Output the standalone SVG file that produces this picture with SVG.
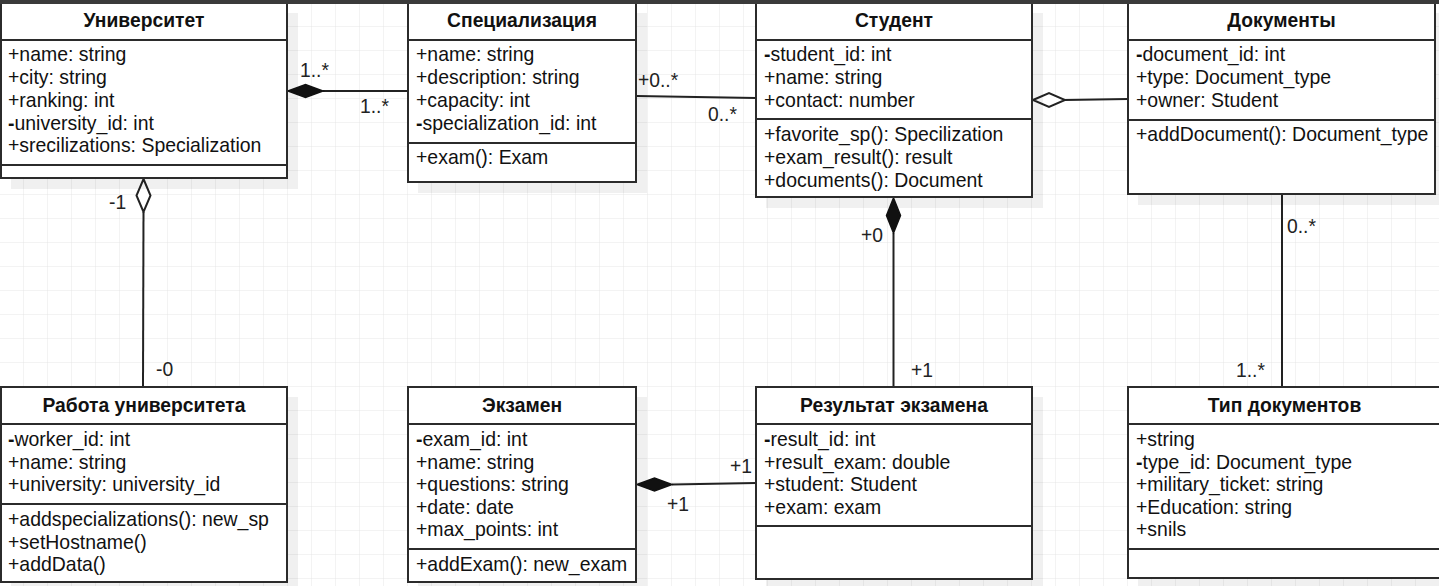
<svg xmlns="http://www.w3.org/2000/svg" width="1439" height="586" viewBox="0 0 1439 586">
<defs>
<pattern id="grid" x="0" y="3" width="24" height="24" patternUnits="userSpaceOnUse">
<path d="M24 0V24M0 24H24" fill="none" stroke="#e6e6e6" stroke-width="1"/>
</pattern>
<style>
.box{fill:#fff;stroke:#2b2b2b;stroke-width:2}
.sh{fill:#000;opacity:0.06}
.div{stroke:#2b2b2b;stroke-width:2}
.t{font-family:"Liberation Sans",Arial,sans-serif;font-size:19.45px;fill:#111}
.h{font-family:"Liberation Sans",Arial,sans-serif;font-size:19.3px;font-weight:bold;fill:#111;text-anchor:middle}
.b{font-weight:bold}
.ln{stroke:#222;stroke-width:2;fill:none}
.fd{fill:#111;stroke:#111;stroke-width:1.5}
.hd{fill:#fff;stroke:#222;stroke-width:2}
.lb{font-family:"Liberation Sans",Arial,sans-serif;font-size:19.3px;fill:#222}
</style>
</defs>
<rect width="1439" height="586" fill="#fff"/>
<rect width="1439" height="586" fill="url(#grid)"/>

<g id="connectors">
<line class="ln" x1="323" y1="91" x2="408" y2="91"/>
<polygon class="fd" points="288,91 305.5,84.5 323,91 305.5,97.5"/>
<line class="ln" x1="636" y1="96" x2="756" y2="98"/>
<line class="ln" x1="1065" y1="100" x2="1128" y2="99"/>
<polygon class="hd" points="1033,100 1049,93 1065,100 1049,107"/>
<line class="ln" x1="143.5" y1="212" x2="143" y2="387"/>
<polygon class="hd" points="143.5,179 150.5,195.5 143.5,212 136.5,195.5"/>
<line class="ln" x1="893.5" y1="233" x2="893.5" y2="387"/>
<polygon class="fd" points="893.5,198 900.5,215.5 893.5,233 886.5,215.5"/>
<line class="ln" x1="672" y1="484.5" x2="756" y2="483"/>
<polygon class="fd" points="637,484.5 654.5,478 672,484.5 654.5,491"/>
<line class="ln" x1="1282" y1="194" x2="1282" y2="387"/>
<text class="lb" x="300" y="77">1..*</text>
<text class="lb" x="360" y="113">1..*</text>
<text class="lb" x="638" y="87">+0..*</text>
<text class="lb" x="708" y="121">0..*</text>
<text class="lb" x="109" y="209">-1</text>
<text class="lb" x="156" y="376">-0</text>
<text class="lb" x="861" y="242">+0</text>
<text class="lb" x="911" y="377">+1</text>
<text class="lb" x="730" y="473">+1</text>
<text class="lb" x="667" y="511">+1</text>
<text class="lb" x="1287" y="233">0..*</text>
<text class="lb" x="1236" y="377">1..*</text>
</g>

<g id="university">
<rect class="sh" x="11" y="13" width="287" height="176"/>
<rect class="box" x="1" y="3" width="286" height="175"/>
<line class="div" x1="1" y1="40" x2="287" y2="40"/>
<line class="div" x1="1" y1="165" x2="287" y2="165"/>
<text class="h" x="144" y="27">Университет</text>
<text class="t" x="8" y="61">+name: string</text>
<text class="t" x="8" y="84">+city: string</text>
<text class="t" x="8" y="107">+ranking: int</text>
<text class="t" x="8" y="129.5"><tspan class="b">-</tspan>university_id: int</text>
<text class="t" x="8" y="152">+srecilizations: Specialization</text>
</g>

<g id="specialization">
<rect class="sh" x="418" y="13" width="229" height="180"/>
<rect class="box" x="408" y="3" width="228" height="179"/>
<line class="div" x1="408" y1="40" x2="636" y2="40"/>
<line class="div" x1="408" y1="143" x2="636" y2="143"/>
<text class="h" x="522" y="27">Специализация</text>
<text class="t" x="416" y="61">+name: string</text>
<text class="t" x="416" y="84">+description: string</text>
<text class="t" x="416" y="107">+capacity: int</text>
<text class="t" x="416" y="129.5"><tspan class="b">-</tspan>specialization_id: int</text>
<text class="t" x="416" y="164">+exam(): Exam</text>
</g>

<g id="student">
<rect class="sh" x="766" y="13" width="277" height="195"/>
<rect class="box" x="756" y="3" width="276" height="194"/>
<line class="div" x1="756" y1="40" x2="1032" y2="40"/>
<line class="div" x1="756" y1="119" x2="1032" y2="119"/>
<text class="h" x="894" y="27">Студент</text>
<text class="t" x="764" y="61"><tspan class="b">-</tspan>student_id: int</text>
<text class="t" x="764" y="84">+name: string</text>
<text class="t" x="764" y="107">+contact: number</text>
<text class="t" x="764" y="141">+favorite_sp(): Specilization</text>
<text class="t" x="764" y="164">+exam_result(): result</text>
<text class="t" x="764" y="187">+documents(): Document</text>
</g>

<g id="documents">
<rect class="sh" x="1138" y="13" width="308" height="192"/>
<rect class="box" x="1128" y="3" width="307" height="191"/>
<line class="div" x1="1128" y1="40" x2="1435" y2="40"/>
<line class="div" x1="1128" y1="120" x2="1435" y2="120"/>
<text class="h" x="1281.5" y="27">Документы</text>
<text class="t" x="1136" y="61"><tspan class="b">-</tspan>document_id: int</text>
<text class="t" x="1136" y="84">+type: Document_type</text>
<text class="t" x="1136" y="107">+owner: Student</text>
<text class="t" x="1136" y="141">+addDocument(): Document_type</text>
</g>

<g id="university-work">
<rect class="sh" x="11" y="397" width="287" height="196"/>
<rect class="box" x="1" y="387" width="286" height="195"/>
<line class="div" x1="1" y1="424" x2="287" y2="424"/>
<line class="div" x1="1" y1="504" x2="287" y2="504"/>
<text class="h" x="144" y="412">Работа университета</text>
<text class="t" x="8" y="446"><tspan class="b">-</tspan>worker_id: int</text>
<text class="t" x="8" y="468.5">+name: string</text>
<text class="t" x="8" y="491">+university: university_id</text>
<text class="t" x="8" y="526">+addspecializations(): new_sp</text>
<text class="t" x="8" y="548.5">+setHostname()</text>
<text class="t" x="8" y="571">+addData()</text>
</g>

<g id="exam">
<rect class="sh" x="418" y="397" width="229" height="196"/>
<rect class="box" x="408" y="387" width="228" height="195"/>
<line class="div" x1="408" y1="424" x2="636" y2="424"/>
<line class="div" x1="408" y1="549" x2="636" y2="549"/>
<text class="h" x="522" y="412">Экзамен</text>
<text class="t" x="416" y="446"><tspan class="b">-</tspan>exam_id: int</text>
<text class="t" x="416" y="468.5">+name: string</text>
<text class="t" x="416" y="491">+questions: string</text>
<text class="t" x="416" y="513.5">+date: date</text>
<text class="t" x="416" y="536">+max_points: int</text>
<text class="t" x="416" y="571">+addExam(): new_exam</text>
</g>

<g id="exam-result">
<rect class="sh" x="766" y="397" width="277" height="193"/>
<rect class="box" x="756" y="387" width="276" height="192"/>
<line class="div" x1="756" y1="424" x2="1032" y2="424"/>
<line class="div" x1="756" y1="526" x2="1032" y2="526"/>
<text class="h" x="894" y="412">Результат экзамена</text>
<text class="t" x="764" y="446"><tspan class="b">-</tspan>result_id: int</text>
<text class="t" x="764" y="468.5">+result_exam: double</text>
<text class="t" x="764" y="491">+student: Student</text>
<text class="t" x="764" y="513.5">+exam: exam</text>
</g>

<g id="document-type">
<rect class="sh" x="1138" y="397" width="310" height="192"/>
<rect class="box" x="1128" y="387" width="313" height="191"/>
<line class="div" x1="1128" y1="424" x2="1441" y2="424"/>
<line class="div" x1="1128" y1="549" x2="1441" y2="549"/>
<text class="h" x="1284.5" y="412">Тип документов</text>
<text class="t" x="1136" y="446">+string</text>
<text class="t" x="1136" y="468.5"><tspan class="b">-</tspan>type_id: Document_type</text>
<text class="t" x="1136" y="491">+military_ticket: string</text>
<text class="t" x="1136" y="513.5">+Education: string</text>
<text class="t" x="1136" y="536">+snils</text>
</g>

<rect x="0" y="0" width="1439" height="4" fill="#3a3a3a"/>
</svg>
